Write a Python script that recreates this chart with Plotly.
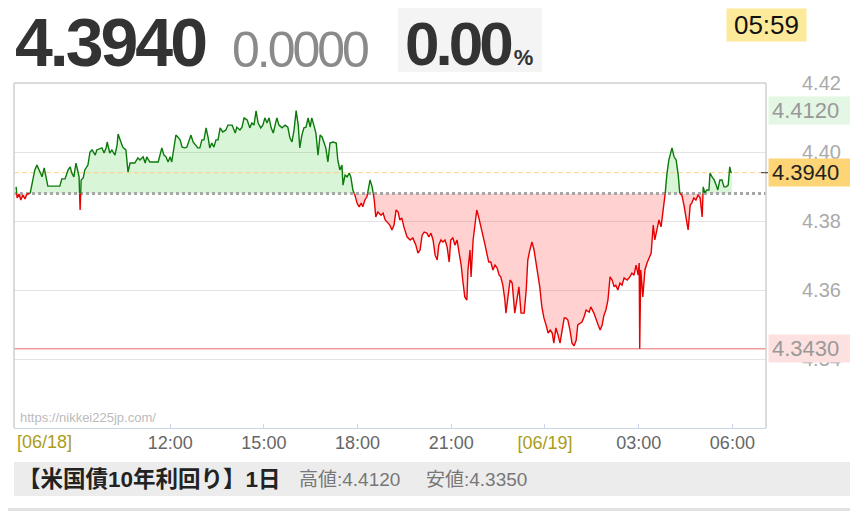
import plotly.graph_objects as go
from datetime import datetime, timedelta

# ---------------- data ----------------
START = "2025-06-18 07:00"
MINUTES = [4, 6, 10, 13, 17, 21, 25, 31, 36, 40, 44, 50, 54, 58, 61, 65, 88, 92, 98, 104,
           108, 111, 115, 119, 123, 125, 127, 129, 133, 136, 142, 146, 150, 156, 159, 165, 169, 173, 177, 179,
           184, 188, 194, 198, 200, 204, 209, 215, 219, 223, 232, 238, 242, 248, 252, 255, 261, 277, 280, 284,
           288, 292, 296, 300, 303, 307, 311, 315, 319, 323, 328, 332, 336, 340, 344, 348, 353, 357, 361, 365,
           369, 373, 376, 380, 384, 388, 392, 396, 401, 407, 411, 419, 425, 428, 434, 438, 442, 448, 453, 457,
           461, 465, 469, 474, 478, 482, 486, 490, 494, 498, 501, 505, 509, 515, 521, 526, 530, 534, 538, 542,
           546, 549, 553, 557, 561, 565, 569, 572, 576, 580, 584, 588, 592, 596, 599, 603, 607, 613, 619, 622,
           626, 630, 632, 636, 640, 644, 647, 651, 655, 659, 663, 667, 670, 674, 678, 684, 688, 692, 695, 699,
           705, 709, 713, 718, 722, 726, 730, 734, 738, 741, 745, 749, 755, 761, 766, 772, 776, 780, 784, 788,
           793, 797, 801, 805, 809, 813, 816, 820, 824, 828, 832, 836, 839, 843, 847, 851, 855, 859, 862, 866,
           870, 872, 876, 878, 882, 886, 889, 893, 897, 901, 905, 909, 912, 916, 920, 924, 928, 932, 935, 939,
           943, 945, 949, 953, 957, 960, 962, 966, 970, 974, 980, 984, 987, 991, 995, 999, 1003, 1007, 1010, 1014,
           1018, 1022, 1026, 1030, 1034, 1037, 1041, 1045, 1049, 1053, 1057, 1060, 1064, 1068, 1072, 1076, 1080, 1083, 1087, 1091,
           1095, 1099, 1105, 1108, 1114, 1118, 1122, 1126, 1130, 1133, 1137, 1141, 1145, 1149, 1153, 1156, 1160, 1164, 1168, 1172,
           1178, 1183, 1187, 1191, 1195, 1199, 1201, 1202, 1204, 1208, 1212, 1216, 1220, 1224, 1228, 1231, 1235, 1239, 1243, 1247,
           1251, 1254, 1258, 1262, 1264, 1268, 1272, 1276, 1279, 1283, 1287, 1291, 1295, 1299, 1302, 1306, 1310, 1314, 1318, 1322,
           1324, 1327, 1331, 1335, 1337, 1341, 1345, 1349, 1352, 1356, 1360, 1364, 1368, 1372, 1375, 1377, 1379]
YIELDS = [4.3899, 4.3867, 4.3878, 4.3861, 4.3875, 4.3864, 4.3878, 4.3880, 4.3919, 4.3948, 4.3962, 4.3942, 4.3928, 4.3954, 4.3928, 4.3901, 4.3901, 4.3922, 4.3922, 4.3948,
          4.3957, 4.3939, 4.3928, 4.3968, 4.3942, 4.3928, 4.3832, 4.3919, 4.3925, 4.3948, 4.3962, 4.4000, 4.4006, 4.3991, 4.4006, 4.4009, 4.4012, 4.3997, 4.4012, 4.4029,
          4.3997, 4.4006, 4.3991, 4.4020, 4.4052, 4.4035, 4.4014, 4.4006, 4.3942, 4.3968, 4.3968, 4.3983, 4.3977, 4.3986, 4.3968, 4.3986, 4.3971, 4.3971, 4.3991, 4.4012,
          4.3991, 4.3986, 4.3971, 4.3986, 4.3971, 4.4006, 4.4049, 4.4043, 4.4035, 4.4014, 4.4012, 4.4014, 4.4029, 4.4049, 4.4029, 4.4020, 4.4012, 4.4012, 4.4035, 4.4035,
          4.4070, 4.4041, 4.4012, 4.4026, 4.4014, 4.4035, 4.4035, 4.4070, 4.4058, 4.4064, 4.4078, 4.4078, 4.4055, 4.4072, 4.4064, 4.4072, 4.4099, 4.4093, 4.4070, 4.4084,
          4.4078, 4.4119, 4.4084, 4.4070, 4.4078, 4.4099, 4.4084, 4.4099, 4.4070, 4.4055, 4.4072, 4.4099, 4.4078, 4.4070, 4.4078, 4.4072, 4.4041, 4.4029, 4.4064, 4.4120,
          4.4078, 4.4012, 4.4049, 4.4070, 4.4072, 4.4099, 4.4072, 4.4099, 4.4078, 4.4055, 4.3991, 4.4049, 4.4043, 4.4026, 4.4012, 4.3971, 4.4026, 4.4029, 4.4026, 4.3977,
          4.3948, 4.3962, 4.3904, 4.3933, 4.3928, 4.3939, 4.3928, 4.3890, 4.3875, 4.3852, 4.3841, 4.3852, 4.3841, 4.3861, 4.3870, 4.3919, 4.3899, 4.3861, 4.3812, 4.3826,
          4.3817, 4.3823, 4.3803, 4.3794, 4.3788, 4.3774, 4.3788, 4.3832, 4.3826, 4.3803, 4.3809, 4.3783, 4.3754, 4.3745, 4.3751, 4.3730, 4.3707, 4.3716, 4.3759, 4.3768,
          4.3765, 4.3754, 4.3765, 4.3745, 4.3701, 4.3687, 4.3730, 4.3745, 4.3739, 4.3745, 4.3725, 4.3681, 4.3745, 4.3751, 4.3730, 4.3745, 4.3707, 4.3672, 4.3629, 4.3580,
          4.3571, 4.3658, 4.3716, 4.3638, 4.3745, 4.3797, 4.3832, 4.3809, 4.3783, 4.3765, 4.3730, 4.3701, 4.3681, 4.3681, 4.3658, 4.3672, 4.3664, 4.3643, 4.3638, 4.3614,
          4.3571, 4.3533, 4.3586, 4.3629, 4.3620, 4.3571, 4.3533, 4.3571, 4.3609, 4.3533, 4.3533, 4.3600, 4.3687, 4.3716, 4.3739, 4.3716, 4.3678, 4.3643, 4.3609, 4.3551,
          4.3519, 4.3499, 4.3475, 4.3484, 4.3475, 4.3446, 4.3490, 4.3470, 4.3446, 4.3484, 4.3519, 4.3519, 4.3513, 4.3484, 4.3446, 4.3438, 4.3455, 4.3499, 4.3504, 4.3507,
          4.3522, 4.3542, 4.3536, 4.3551, 4.3533, 4.3513, 4.3499, 4.3484, 4.3499, 4.3525, 4.3542, 4.3571, 4.3638, 4.3629, 4.3609, 4.3614, 4.3600, 4.3620, 4.3614, 4.3635,
          4.3629, 4.3638, 4.3649, 4.3643, 4.3672, 4.3643, 4.3678, 4.3430, 4.3658, 4.3580, 4.3658, 4.3678, 4.3693, 4.3707, 4.3788, 4.3745, 4.3774, 4.3803, 4.3783, 4.3838,
          4.3880, 4.3933, 4.3977, 4.4006, 4.4012, 4.3986, 4.3977, 4.3933, 4.3880, 4.3875, 4.3846, 4.3812, 4.3774, 4.3846, 4.3852, 4.3867, 4.3861, 4.3875, 4.3867, 4.3812,
          4.3899, 4.3882, 4.3890, 4.3890, 4.3939, 4.3928, 4.3919, 4.3904, 4.3890, 4.3919, 4.3919, 4.3899, 4.3899, 4.3904, 4.3957, 4.3942, 4.3940]

BASE = 4.388          # reference (dotted) level
LAST = 4.3940
HIGH_MARK = 4.4120
LOW_MARK = 4.3430
Y_TICKS = [4.34, 4.36, 4.38, 4.40, 4.42]
X_TICK_TIMES = ["2025-06-18 12:00", "2025-06-18 15:00", "2025-06-18 18:00", "2025-06-18 21:00",
                "2025-06-19 00:00", "2025-06-19 03:00", "2025-06-19 06:00"]
X_TICK_TEXT = ["12:00", "15:00", "18:00", "21:00", "[06/19]", "03:00", "06:00"]
X_RANGE = ["2025-06-18 07:00", "2025-06-19 07:04:36"]
Y_RANGE = [4.32, 4.42]
TITLE = "【米国債10年利回り】1日"
HIGH_TEXT = "高値:4.4120"
LOW_TEXT = "安値:4.3350"
CLOCK = "05:59"
CHANGE = "0.0000"
PCT = "0.00"
FIRST_DAY = "[06/18]"
WATERMARK = "https://nikkei225jp.com/"

# ---------------- split above / below reference ----------------
t0 = datetime.strptime(START, "%Y-%m-%d %H:%M")
pts = []
for i, (m, v) in enumerate(zip(MINUTES, YIELDS)):
    if i > 0:
        pm, pv = MINUTES[i - 1], YIELDS[i - 1]
        if (pv - BASE) * (v - BASE) < 0:
            cm = pm + (BASE - pv) / (v - pv) * (m - pm)
            pts.append((cm, BASE))
    pts.append((m, v))

xs = [t0 + timedelta(minutes=m) for m, _ in pts]
vals = [v for _, v in pts]
up_area = [max(v, BASE) for v in vals]
dn_area = [min(v, BASE) for v in vals]
up_line = [v if v >= BASE else None for v in vals]
dn_line = [v if v <= BASE else None for v in vals]

GREEN = "#0b7a0b"
RED = "#e60000"

fig = go.Figure()
fig.add_trace(go.Scatter(x=xs, y=[BASE] * len(xs), mode="lines", line=dict(width=0), hoverinfo="skip"))
fig.add_trace(go.Scatter(x=xs, y=up_area, mode="lines", line=dict(width=0), fill="tonexty",
                         fillcolor="rgba(40,200,40,0.18)", hoverinfo="skip"))
fig.add_trace(go.Scatter(x=xs, y=[BASE] * len(xs), mode="lines", line=dict(width=0), hoverinfo="skip"))
fig.add_trace(go.Scatter(x=xs, y=dn_area, mode="lines", line=dict(width=0), fill="tonexty",
                         fillcolor="rgba(255,40,40,0.21)", hoverinfo="skip"))

# reference lines
fig.add_trace(go.Scatter(x=X_RANGE, y=[LAST, LAST], mode="lines",
                         line=dict(color="#fcd08e", width=1, dash="5px,3px"), hoverinfo="skip"))
fig.add_trace(go.Scatter(x=X_RANGE, y=[LOW_MARK, LOW_MARK], mode="lines",
                         line=dict(color="#f29b9b", width=1.5), hoverinfo="skip"))
fig.add_trace(go.Scatter(x=X_RANGE, y=[BASE, BASE], mode="lines",
                         line=dict(color="#a6a6a6", width=3, dash="3px,3px"), hoverinfo="skip"))

fig.add_trace(go.Scatter(x=xs, y=up_line, mode="lines", line=dict(color=GREEN, width=1.4),
                         connectgaps=False, hoverinfo="skip"))
fig.add_trace(go.Scatter(x=xs, y=dn_line, mode="lines", line=dict(color=RED, width=1.4),
                         connectgaps=False, hoverinfo="skip"))

OLIVE = "#ab9c1a"
tick_text = [f'<span style="color:{OLIVE}">{t}</span>' if t.startswith("[") else t for t in X_TICK_TEXT]

# page body has an 8px margin: figure is sized/offset so the plot lands at x 14-766, y 83-428
fig.update_layout(
    width=850, height=503,
    margin=dict(l=6, r=92, t=75, b=83, autoexpand=False),
    paper_bgcolor="white", plot_bgcolor="white",
    showlegend=False,
    font=dict(family="Liberation Sans, Arial, sans-serif", color="#666"),
    xaxis=dict(type="date", range=X_RANGE, tickvals=X_TICK_TIMES, ticktext=tick_text,
               showgrid=False, zeroline=False, showline=True, linecolor="#ccd6eb", linewidth=1,
               ticks="inside", ticklen=4, tickcolor="#ccd6eb", ticklabelstandoff=-2,
               tickfont=dict(size=18, color="#666")),
    yaxis=dict(range=Y_RANGE, side="right", tickvals=Y_TICKS,
               ticktext=[f"{v:.2f}" for v in Y_TICKS],
               showgrid=True, gridcolor="#e3e3e3", gridwidth=1, zeroline=False,
               showline=False, ticks="outside", ticklen=31, tickcolor="rgba(0,0,0,0)",
               tickfont=dict(size=20, color="#aaaaaa")),
)

def px_x(p):
    return (p - 14) / 752.0

def px_y(p):
    return (428 - p) / 345.0

shapes = [
    dict(type="line", xref="paper", yref="paper", x0=0, x1=0, y0=0, y1=1, line=dict(color="#cfcfcf", width=1.5)),
    dict(type="line", xref="paper", yref="paper", x0=0, x1=1, y0=1, y1=1, line=dict(color="#cfcfcf", width=1.5)),
    dict(type="line", xref="paper", yref="paper", x0=1, x1=1, y0=0, y1=1, line=dict(color="#cfcfcf", width=1.5)),
    dict(type="line", xref="paper", yref="y", x0=px_x(761), x1=px_x(768), y0=LAST, y1=LAST,
         line=dict(color="#333", width=1)),
    dict(type="rect", xref="paper", yref="paper", x0=px_x(398), x1=px_x(542), y0=px_y(72), y1=px_y(5),
         fillcolor="#f4f4f4", line=dict(width=0), layer="below"),
    dict(type="rect", xref="paper", yref="paper", x0=px_x(14), x1=px_x(858), y0=px_y(496), y1=px_y(462),
         fillcolor="#ececec", line=dict(width=0)),
    dict(type="rect", xref="paper", yref="paper", x0=px_x(0), x1=px_x(858), y0=px_y(511), y1=px_y(508),
         fillcolor="#e2e2e2", line=dict(width=0)),
]
fig.update_layout(shapes=shapes)

HEAD = "Liberation Sans, Arial, sans-serif"
ann = []
ann.append(dict(xref="paper", yref="paper", x=px_x(13), y=px_y(82), xanchor="left", yanchor="bottom",
                text=f'<span style="letter-spacing:-3px"><b>{LAST:.4f}</b></span>', showarrow=False,
                font=dict(family=HEAD, size=68, color="#333")))
ann.append(dict(xref="paper", yref="paper", x=px_x(230), y=px_y(80.5), xanchor="left", yanchor="bottom",
                text=f'<span style="letter-spacing:-3px">{CHANGE}</span>', showarrow=False,
                font=dict(family=HEAD, size=50, color="#8a8a8a")))
ann.append(dict(xref="paper", yref="paper", x=px_x(403), y=px_y(80.5), xanchor="left", yanchor="bottom",
                text=(f'<span style="letter-spacing:-4px"><b>{PCT[:-1]}</b></span><b>{PCT[-1]}</b>'
                      f'<b><span style="font-size:22px">%</span></b>'),
                showarrow=False, font=dict(family=HEAD, size=62, color="#333")))
ann.append(dict(xref="paper", yref="paper", x=px_x(766.5), y=px_y(25), xanchor="center", yanchor="middle",
                text=CLOCK, showarrow=False, width=79, height=32, borderpad=0, bgcolor="#fde99a",
                font=dict(family="Liberation Sans, Arial", size=26, color="#111")))
for val, bg, fc in [(HIGH_MARK, "#e4f6e4", "#999"), (LAST, "#fdd476", "#222"), (LOW_MARK, "#fde1e1", "#999")]:
    ann.append(dict(xref="paper", yref="y", x=px_x(768), y=val, xanchor="left", yanchor="middle",
                    text=f"{val:.4f}", showarrow=False, width=84, height=21, borderpad=3, align="left",
                    bgcolor=bg, font=dict(family="Liberation Sans, Arial", size=22, color=fc)))
ann.append(dict(xref="paper", yref="paper", x=px_x(15), y=px_y(442), xanchor="left", yanchor="middle",
                text=FIRST_DAY, showarrow=False, font=dict(size=18, color=OLIVE)))
ann.append(dict(xref="paper", yref="paper", x=px_x(18), y=px_y(427), xanchor="left", yanchor="bottom",
                text=WATERMARK, showarrow=False, font=dict(size=13, color="#bbbbbb")))
ann.append(dict(xref="paper", yref="paper", x=px_x(16), y=px_y(479), xanchor="left", yanchor="middle",
                text=f"<b>{TITLE}</b>", showarrow=False,
                font=dict(family="Liberation Sans, Noto Sans CJK JP, sans-serif", size=22.5, color="#222")))
ann.append(dict(xref="paper", yref="paper", x=px_x(297), y=px_y(479), xanchor="left", yanchor="middle",
                text=HIGH_TEXT, showarrow=False,
                font=dict(family="Liberation Sans, Noto Sans CJK JP, sans-serif", size=19, color="#777")))
ann.append(dict(xref="paper", yref="paper", x=px_x(424), y=px_y(479), xanchor="left", yanchor="middle",
                text=LOW_TEXT, showarrow=False,
                font=dict(family="Liberation Sans, Noto Sans CJK JP, sans-serif", size=19, color="#777")))
fig.update_layout(annotations=ann)

fig.write_html("out.html")
